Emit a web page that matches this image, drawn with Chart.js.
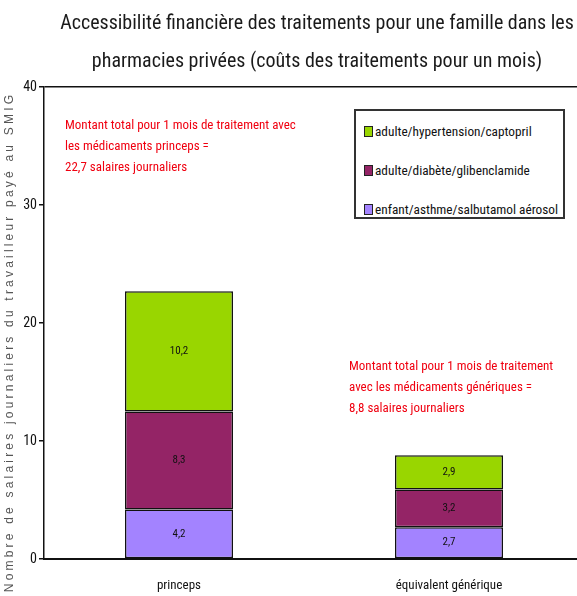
<!DOCTYPE html>
<html lang="fr">
<head>
<meta charset="utf-8">
<script src="https://cdn.jsdelivr.net/npm/chart.js@4.4.1/dist/chart.umd.min.js"></script>
<style>
  html, body { margin: 0; padding: 0; background: #fff; overflow: hidden; }
  body { font-family: 'Liberation Sans Narrow', 'Arial Narrow', 'Roboto Condensed', Roboto, sans-serif; }
  .wrap { position: relative; width: 586px; height: 596px; }
  .title { position: absolute; left: 40px; width: 554px; top: 3px; text-align: center; white-space: nowrap;
           font-size: 20px; line-height: 38px; color: #1a1a1a; }
  .note { position: absolute; color: #f00010; font-size: 13px; line-height: 21px; white-space: nowrap; }
  .legend { position: absolute; left: 354px; top: 109px; width: 207px; height: 106px;
            border: 2px solid #333; background: #fff; font-size: 13.3px; color: #111; }
  .legend div { position: absolute; left: 8px; height: 14px; line-height: 14px; white-space: nowrap; }
  .legend span { display: inline-block; width: 7px; height: 9px; border: 1px solid #222;
                 margin-right: 2px; vertical-align: -1px; }
</style>
</head>
<body>
<div class="wrap">
  <canvas id="chart" width="586" height="596"></canvas>
  <div class="title">Accessibilité financière des traitements pour une famille dans les<br>pharmacies privées (coûts des traitements pour un mois)</div>
  <div class="note" style="left:65px; top:114px;">Montant total pour 1 mois de traitement avec<br>les médicaments princeps =<br>22,7 salaires journaliers</div>
  <div class="note" style="left:349px; top:355px;">Montant total pour 1 mois de traitement<br>avec les médicaments génériques =<br>8,8 salaires journaliers</div>
  <div class="legend" id="legend"></div>
</div>
<script>
// ===== Données =====
const categories = ['princeps', 'équivalent générique'];
const asthme = [4.2, 2.7];        // enfant/asthme/salbutamol aérosol
const diabete = [8.3, 3.2];       // adulte/diabète/glibenclamide
const hypertension = [10.2, 2.9]; // adulte/hypertension/captopril
const yTicks = [0, 10, 20, 30, 40];
const yTitle = 'Nombre de salaires journaliers du travailleur payé au SMIG';

const lavender = '#a383ff';
const plum = '#942466';
const lime = '#99d600';
const narrow = "'Liberation Sans Narrow', 'Arial Narrow', 'Roboto Condensed', Roboto, sans-serif";

const datasets = [
  { label: 'enfant/asthme/salbutamol aérosol', data: asthme, backgroundColor: lavender },
  { label: 'adulte/diabète/glibenclamide', data: diabete, backgroundColor: plum },
  { label: 'adulte/hypertension/captopril', data: hypertension, backgroundColor: lime }
].map(d => Object.assign(d, {
  borderColor: '#111',
  borderWidth: 1.5,
  borderSkipped: false,
  barPercentage: 0.4,
  categoryPercentage: 1
}));

// ===== Légende (HTML, ordre inversé) =====
const legendEl = document.getElementById('legend');
datasets.slice().reverse().forEach((d, i) => {
  const row = document.createElement('div');
  row.style.top = (14 + i * 39) + 'px';
  row.innerHTML = `<span style="background:${d.backgroundColor}"></span>${d.label}`;
  legendEl.appendChild(row);
});

// ===== Étiquettes des valeurs au centre des segments =====
const valueLabels = {
  id: 'valueLabels',
  afterDatasetsDraw(chart) {
    const ctx = chart.ctx;
    ctx.save();
    ctx.font = '11px ' + narrow;
    ctx.fillStyle = '#111';
    ctx.textAlign = 'center';
    ctx.textBaseline = 'middle';
    chart.data.datasets.forEach((ds, i) => {
      chart.getDatasetMeta(i).data.forEach((bar, j) => {
        const y = (bar.y + bar.base) / 2;
        ctx.fillText(String(ds.data[j]).replace('.', ','), bar.x, y);
      });
    });
    ctx.restore();
  }
};

// ===== Titre de l'axe Y (espacement des lettres) =====
const yAxisTitle = {
  id: 'yAxisTitle',
  afterDraw(chart) {
    const ctx = chart.ctx;
    ctx.save();
    ctx.translate(10, 342);
    ctx.rotate(-Math.PI / 2);
    ctx.font = "12px 'Liberation Sans', Arial, sans-serif";
    if ('letterSpacing' in ctx) ctx.letterSpacing = '3.2px';
    ctx.fillStyle = '#555';
    ctx.textAlign = 'center';
    ctx.textBaseline = 'middle';
    ctx.fillText(yTitle, 0, 0);
    ctx.restore();
  }
};

new Chart(document.getElementById('chart'), {
  type: 'bar',
  data: { labels: categories, datasets },
  plugins: [valueLabels, yAxisTitle],
  options: {
    responsive: false,
    animation: false,
    layout: { padding: { top: 87, right: 2, left: 0, bottom: 0 } },
    plugins: {
      legend: { display: false },
      tooltip: { enabled: false }
    },
    scales: {
      x: {
        stacked: true,
        grid: { display: false },
        border: { display: true, color: '#111', width: 2 },
        ticks: { color: '#111', font: { family: narrow, size: 13 }, padding: 11 },
        afterFit(scale) { scale.height = 37; }
      },
      y: {
        stacked: true,
        min: 0,
        max: 40,
        afterBuildTicks(scale) { scale.ticks = yTicks.map(v => ({ value: v })); },
        grid: {
          color: c => c.tick && c.tick.value === 40 ? '#111' : 'rgba(0,0,0,0)',
          tickColor: '#111',
          tickLength: 5,
          lineWidth: 1.5
        },
        border: { display: true, color: '#111', width: 1.5 },
        ticks: { color: '#111', font: { family: narrow, size: 14 }, padding: 2 },
        afterFit(scale) { scale.width = 44; }
      }
    }
  }
});
</script>
</body>
</html>
